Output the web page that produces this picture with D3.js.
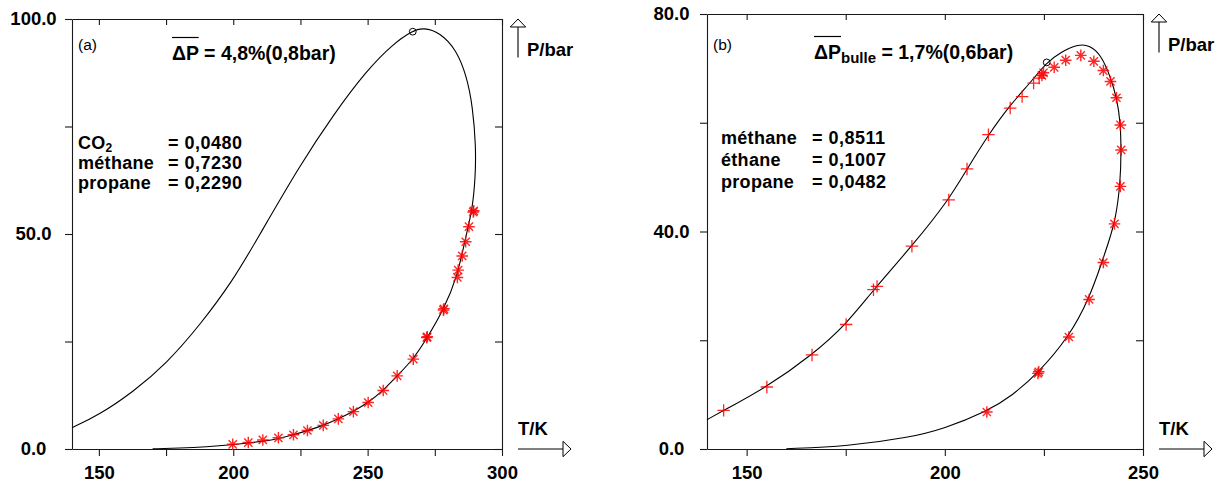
<!DOCTYPE html>
<html>
<head>
<meta charset="utf-8">
<script src="https://cdn.jsdelivr.net/npm/d3@7"></script>
<style>
  html, body { margin: 0; padding: 0; background: #fff; }
  svg { display: block; }
  text { font-family: "Liberation Sans", Arial, Helvetica, sans-serif; fill: #000; }
</style>
</head>
<body>
<svg id="chart" width="1223" height="486"></svg>
<script>
// ---------- DATA ----------
// Panel (a): CO2 / methane / propane
const xTicksA = [150, 175, 200, 225, 250, 275, 300];
const xLabelsA = [150, 200, 250, 300];
const yTicksA = [0, 25, 50, 75, 100];
const yLabelsA = [0, 50, 100];
const curveA = [
  [140, 4.95], [150, 7.9], [162.8, 13.3], [175.2, 19.9], [187.6, 28.8], [200, 39.3],
  [208.7, 48.6], [224.8, 66], [237.2, 77.7], [249.7, 88.1], [259.6, 94.3], [266.8, 97.3],
  [270.7, 98.0], [276.9, 96.9], [283.1, 92.8], [286.9, 86.6], [289.1, 79.6], [290.3, 70.3],
  [290.1, 63.3], [289, 55.6], [286.2, 48.6], [283.4, 40.1], [278.2, 32.3], [272, 25.7],
  [267, 20.9], [261, 17], [255.8, 13.6], [250.2, 10.8], [244.7, 8.7], [239.1, 7.0],
  [233.5, 5.5], [227.9, 4.3], [222.3, 3.3], [216.8, 2.4], [211.2, 1.8], [205.6, 1.4],
  [200, 1.0], [190, 0.5], [180, 0.2], [170, 0.05]
];
const starsA = [
  [199.8, 1.09], [205.6, 1.5], [211, 2.1], [216.8, 2.6], [222.4, 3.3], [227.6, 4.3],
  [233.5, 5.5], [239.1, 7.0], [244.7, 8.7], [250.2, 10.8], [255.8, 13.6], [261, 17],
  [267, 20.9], [272, 25.9], [272.2, 26.1], [278.2, 32.3], [278.4, 32.6], [283.4, 39.9],
  [283.7, 41.6], [285.2, 44.9], [286.5, 48.2], [287.7, 51.7], [289.3, 55.1], [289.5, 55.4]
];
const criticalA = [[266.8, 97.05]];
const namesA = ["CO", "méthane", "propane"];
const fractionsA = ["= 0,0480", "= 0,7230", "= 0,2290"];

// Panel (b): methane / ethane / propane
const xTicksB = [150, 175, 200, 225, 250];
const xLabelsB = [150, 200, 250];
const yTicksB = [0, 20, 40, 60, 80];
const yLabelsB = [0, 40, 80];
const curveB = [
  [140, 5.39], [144.2, 7.1], [155.1, 11.4], [166.5, 17.3], [175.1, 22.9], [182, 29.3],
  [191.7, 37.3], [201, 45.8], [205.6, 51.5], [211, 57.8], [216.5, 63.3], [221.5, 67.3],
  [225.7, 71.1], [229.2, 73.0], [233.8, 74.5], [236.6, 74.2], [239.3, 72.6], [241.8, 68.5],
  [243.5, 64.2], [244.3, 60], [244.5, 55], [244.3, 49], [243.1, 42.2], [241.3, 38],
  [239.7, 34.5], [236.4, 27.6], [231.3, 20.6], [223.7, 14.1], [217, 9.8], [210.6, 6.9],
  [199.7, 3.7], [191, 2.1], [175.5, 0.5], [160, 0.05]
];
const plusB = [
  [144.2, 7.1], [155.1, 11.4], [166.5, 17.3], [175.1, 22.9], [182, 29.3], [182.9, 29.9],
  [191.7, 37.3], [201, 45.8], [205.6, 51.5], [211, 57.8], [216.5, 62.7], [219.5, 64.8],
  [222.4, 67.3], [223.8, 68.2]
];
const starsB = [
  [224.5, 68.7], [224.9, 69.2], [227.6, 70.2], [230.5, 71.5], [234.3, 72.4], [237.6, 71.3],
  [240, 69.6], [241.8, 67.6], [243.3, 64.6], [244.3, 59.6], [244.5, 55], [244.3, 48.3],
  [242.8, 41.4], [240, 34.3], [236.4, 27.5], [231.3, 20.6], [223.7, 14.2], [223.5, 13.9],
  [210.6, 6.8]
];
const criticalB = [[225.7, 71.1]];
const namesB = ["méthane", "éthane", "propane"];
const fractionsB = ["= 0,8511", "= 0,1007", "= 0,0482"];

// ---------- DRAWING ----------
const svg = d3.select("#chart");
const RED = "#ff0000";
const AX = "#1a1a1a";
const FF = '"Liberation Sans", Arial, Helvetica, sans-serif';

function starPath(r) {
  const d = r * 0.7071;
  return `M0,${-r}L0,${r}M${-r},0L${r},0M${-d},${-d}L${d},${d}M${-d},${d}L${d},${-d}`;
}
function plusPath(r) {
  return `M0,${-r}L0,${r}M${-r},0L${r},0`;
}

function panel(opt) {
  const x = d3.scaleLinear().domain(opt.xDomain).range([opt.left, opt.right]);
  const y = d3.scaleLinear().domain(opt.yDomain).range([opt.bottom, opt.top]);
  const g = svg.append("g");

  const styleAxis = sel => {
    sel.selectAll("path.domain").attr("stroke", AX).attr("stroke-width", 1.1);
    sel.selectAll(".tick line").attr("stroke", AX).attr("stroke-width", 1.1);
    sel.selectAll(".tick text").attr("font-family", FF).attr("font-size", 18.5)
      .attr("font-weight", "bold").attr("fill", "#000");
  };

  // bottom axis
  g.append("g").attr("transform", `translate(0,${opt.bottom})`)
    .call(d3.axisBottom(x).tickValues(opt.xTicks).tickSize(7).tickSizeOuter(0).tickPadding(10)
      .tickFormat(d => opt.xLabels.includes(d) ? String(d) : ""))
    .call(styleAxis);
  // top axis (ticks inward)
  g.append("g").attr("transform", `translate(0,${opt.top})`)
    .call(d3.axisBottom(x).tickValues(opt.xTicks).tickSize(6).tickSizeOuter(0).tickFormat(""))
    .call(styleAxis);
  // left axis (labels centred in the margin)
  g.append("g").attr("transform", `translate(${opt.left},0)`)
    .call(d3.axisLeft(y).tickValues(opt.yTicks).tickSize(7).tickSizeOuter(0)
      .tickFormat(d => opt.yLabels.includes(d) ? d3.format(".1f")(d) : ""))
    .call(styleAxis)
    .call(s => s.selectAll(".tick text").attr("text-anchor", "middle").attr("x", -opt.yLabelOff));
  // right axis (ticks inward)
  g.append("g").attr("transform", `translate(${opt.right},0)`)
    .call(d3.axisLeft(y).tickValues(opt.yTicks).tickSize(7).tickSizeOuter(0).tickFormat(""))
    .call(styleAxis);

  // curve
  const line = d3.line().x(d => x(d[0])).y(d => y(d[1])).curve(d3.curveBasis);
  g.append("path").datum(opt.curve).attr("d", line)
    .attr("fill", "none").attr("stroke", "#000").attr("stroke-width", 1.1);

  // markers
  if (opt.plus) {
    g.append("g").selectAll("path").data(opt.plus).join("path")
      .attr("transform", d => `translate(${x(d[0])},${y(d[1])})`)
      .attr("d", plusPath(6.2)).attr("stroke", RED).attr("stroke-width", 1.3)
      .attr("stroke-opacity", 0.85).attr("fill", "none");
  }
  g.append("g").selectAll("path").data(opt.stars).join("path")
    .attr("transform", d => `translate(${x(d[0])},${y(d[1])})`)
    .attr("d", starPath(5.8)).attr("stroke", RED).attr("stroke-width", 1.4)
    .attr("stroke-opacity", 0.85).attr("fill", "none");
  g.append("g").selectAll("circle").data(opt.critical).join("circle")
    .attr("cx", d => x(d[0])).attr("cy", d => y(d[1])).attr("r", 3.4)
    .attr("fill", "none").attr("stroke", "#000").attr("stroke-width", 1);

  // panel letter
  g.append("text").attr("x", opt.left + 6).attr("y", 50)
    .attr("font-size", 15.5).attr("font-family", FF).text(opt.letter);

  // title with overlined ΔP
  const t = g.append("text").attr("x", opt.titleX).attr("y", opt.titleY)
    .attr("font-size", 19.5).attr("font-weight", "bold").attr("font-family", FF);
  const dp = t.append("tspan").text("ΔP");
  if (opt.sub) {
    t.append("tspan").attr("font-size", 15).attr("dy", 4.5).text(opt.sub);
    t.append("tspan").attr("dy", -4.5).text(opt.title);
  } else {
    t.append("tspan").text(opt.title);
  }
  const dpW = dp.node().getComputedTextLength();
  g.append("line").attr("x1", opt.titleX).attr("x2", opt.titleX + dpW)
    .attr("y1", opt.titleY - 22).attr("y2", opt.titleY - 22)
    .attr("stroke", "#000").attr("stroke-width", 1.2);

  // composition
  opt.names.forEach((n, i) => {
    const tx = g.append("text").attr("x", opt.left + opt.compDx).attr("y", opt.compY + i * opt.compStep)
      .attr("font-size", 18).attr("letter-spacing", 0.3).attr("font-weight", "bold").attr("font-family", FF);
    tx.append("tspan").text(n);
    if (n === "CO") tx.append("tspan").attr("font-size", 12).attr("dy", 3).text("2");
    g.append("text").attr("x", opt.left + opt.valDx).attr("y", opt.compY + i * opt.compStep)
      .attr("font-size", 18).attr("letter-spacing", 0.5).attr("font-weight", "bold").attr("font-family", FF)
      .text(opt.values[i]);
  });

  // P/bar arrow
  const ax = opt.right + 16;
  g.append("line").attr("x1", ax).attr("x2", ax).attr("y1", opt.top + 8).attr("y2", opt.top + 38.5)
    .attr("stroke", "#000").attr("stroke-width", 1.1);
  g.append("path").attr("d", `M${ax},${opt.top}L${ax - 7.7},${opt.top + 8}L${ax + 7.7},${opt.top + 8}Z`)
    .attr("fill", "#fff").attr("stroke", "#000").attr("stroke-width", 1);
  g.append("text").attr("x", ax + 9).attr("y", opt.top + 37)
    .attr("font-size", 18.5).attr("font-weight", "bold").attr("font-family", FF).text("P/bar");

  // T/K arrow
  g.append("line").attr("x1", ax).attr("x2", ax + 45).attr("y1", opt.bottom).attr("y2", opt.bottom)
    .attr("stroke", "#000").attr("stroke-width", 1.1);
  g.append("path").attr("d", `M${ax + 53},${opt.bottom}L${ax + 45},${opt.bottom - 7.7}L${ax + 45},${opt.bottom + 7.7}Z`)
    .attr("fill", "#fff").attr("stroke", "#000").attr("stroke-width", 1);
  g.append("text").attr("x", ax).attr("y", opt.bottom - 14)
    .attr("font-size", 18.5).attr("font-weight", "bold").attr("font-family", FF).text("T/K");
}

panel({
  xDomain: [140, 300], yDomain: [0, 100],
  left: 72, right: 502, top: 19, bottom: 449,
  xTicks: xTicksA, xLabels: xLabelsA, yTicks: yTicksA, yLabels: yLabelsA, yLabelOff: 38.5,
  curve: curveA, stars: starsA, critical: criticalA,
  letter: "(a)", titleX: 172, titleY: 59.5, title: " = 4,8%(0,8bar)", sub: null,
  names: namesA, values: fractionsA, compDx: 6, valDx: 96, compY: 149, compStep: 20
});

panel({
  xDomain: [140, 250], yDomain: [0, 80],
  left: 707, right: 1143, top: 14, bottom: 449,
  xTicks: xTicksB, xLabels: xLabelsB, yTicks: yTicksB, yLabels: yLabelsB, yLabelOff: 35.5,
  curve: curveB, stars: starsB, plus: plusB, critical: criticalB,
  letter: "(b)", titleX: 814, titleY: 58.5, title: " = 1,7%(0,6bar)", sub: "bulle",
  names: namesB, values: fractionsB, compDx: 14, valDx: 105, compY: 144, compStep: 22
});
</script>
</body>
</html>
